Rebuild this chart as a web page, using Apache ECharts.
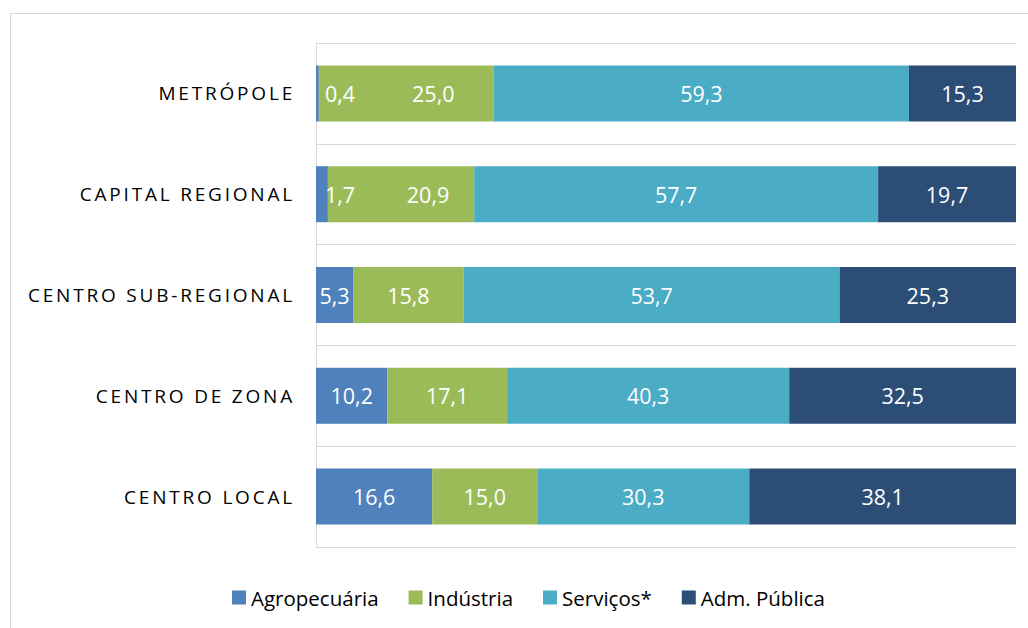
<!DOCTYPE html>
<html>
<head>
<meta charset="utf-8">
<script src="https://cdn.jsdelivr.net/npm/echarts@6/dist/echarts.min.js"></script>
<style>
  html, body { margin: 0; padding: 0; background: #fff; }
  #chart { width: 1028px; height: 628px; }
  /* spaced capitals on the category labels (fill #010101 marks them) */
  #chart text[fill="#010101"], #chart text[style*="#010101"] { letter-spacing: 2.8px; }
</style>
</head>
<body>
<div id="chart"></div>
<script>
const categories = ["METRÓPOLE", "CAPITAL REGIONAL", "CENTRO SUB-REGIONAL", "CENTRO DE ZONA", "CENTRO LOCAL"];
const agropecuaria = [0.4, 1.7, 5.3, 10.2, 16.6];
const industria = [25.0, 20.9, 15.8, 17.1, 15.0];
const servicos = [59.3, 57.7, 53.7, 40.3, 30.3];
const admPublica = [15.3, 19.7, 25.3, 32.5, 38.1];

const seriesNames = ["Agropecuária", "Indústria", "Serviços*", "Adm. Pública"];
const seriesColors = ["#4f81bd", "#9bbb59", "#4bacc6", "#2c4d75"];
const seriesValues = [agropecuaria, industria, servicos, admPublica];

const fmt = (v) => v.toFixed(1).replace(".", ",");
const labelFont = { color: "#fff", fontSize: 21.5, fontFamily: "Open Sans" };

const chart = echarts.init(document.getElementById("chart"), null, { renderer: "svg" });

const series = seriesValues.map((vals, si) => ({
  name: seriesNames[si],
  type: "bar",
  stack: "total",
  barWidth: 56,
  itemStyle: { color: seriesColors[si] },
  label: { show: true, position: "inside", formatter: (p) => fmt(p.value), ...labelFont },
  data: vals.map((v, i) => {
    // thin first segment: label pushed right, like the original
    const thin = agropecuaria[i] < 3;
    if (si === 0 && thin) {
      return { value: v, label: { position: "insideLeft", distance: 9 } };
    }
    if (si === 1 && thin) {
      return { value: v, label: { offset: [27, 0] } };
    }
    return v;
  }),
}));

chart.setOption({
  animation: false,
  textStyle: { fontFamily: "Open Sans" },
  graphic: [{
    type: "rect",
    silent: true,
    shape: { x: 10.5, y: 13.5, width: 1100, height: 700 },
    style: { fill: "none", stroke: "#d9d9d9", lineWidth: 1 },
  }],
  grid: { left: 316, right: 12, top: 43, bottom: 81 },
  legend: {
    left: 227,
    top: 582,
    itemWidth: 14,
    itemHeight: 14,
    itemGap: 30,
    icon: "rect",
    textStyle: { color: "#000", fontSize: 20.5, fontFamily: "Open Sans" },
    data: seriesNames,
  },
  xAxis: {
    type: "value",
    min: 0,
    max: 100,
    axisLine: { show: false },
    axisTick: { show: false },
    axisLabel: { show: false },
    splitLine: { show: false },
  },
  yAxis: {
    type: "category",
    inverse: true,
    data: categories,
    axisLine: { show: true, lineStyle: { color: "#d9d9d9", width: 1 } },
    axisTick: { show: false },
    splitLine: { show: true, lineStyle: { color: "#d9d9d9", width: 1 } },
    axisLabel: { color: "#010101", fontSize: 19, fontFamily: "Open Sans", margin: 21 },
  },
  series: series,
});
</script>
</body>
</html>
